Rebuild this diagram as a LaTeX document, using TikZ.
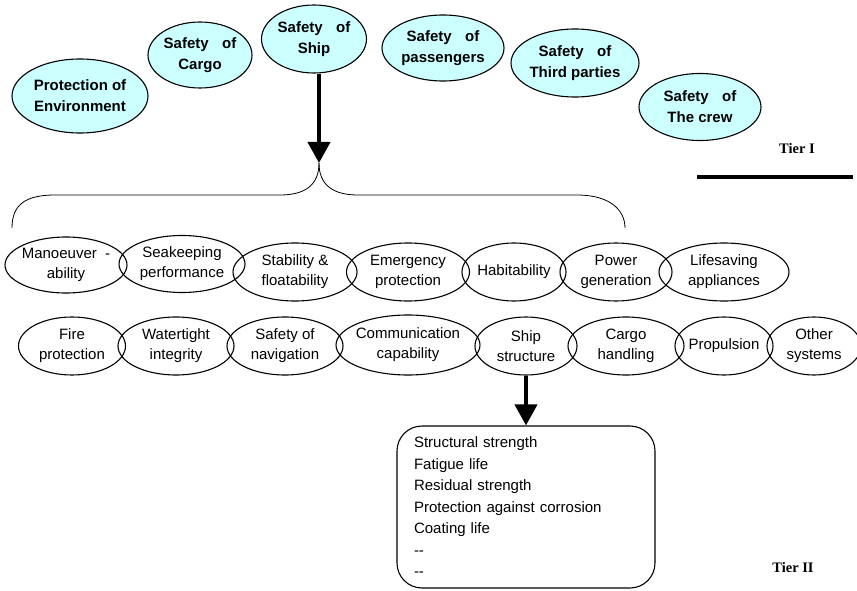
\documentclass[tikz,border=0pt]{standalone}
\usepackage{fontspec}
\setmainfont{Liberation Sans}
\newfontfamily\tierfont{Liberation Serif}
\usetikzlibrary{shapes.geometric,arrows.meta}
\definecolor{goalfill}{HTML}{CCFFFF}
\begin{document}
\begin{tikzpicture}[x=1pt,y=-1pt,
  bubble/.style={ellipse,draw,line width=1.1pt,inner xsep=-40pt,inner ysep=-20pt,
    align=center,font=\fontsize{15}{20}\selectfont},
  goal/.style={bubble,fill=goalfill,font=\bfseries\fontsize{15}{21}\selectfont},
  attr/.style={bubble},
  bigarrow/.style={line width=4pt,-{Triangle[width=22pt,length=21pt]}},
  brace/.style={line width=0.8pt},
  tier/.style={font=\tierfont\bfseries\fontsize{14.5}{16}\selectfont},
  listbox/.style={draw,line width=1.1pt,rounded corners=25pt,minimum width=258pt,
    minimum height=162pt,text width=224pt,align=left,inner xsep=17pt,
    font=\fontsize{15}{21.5}\selectfont}]
\useasboundingbox (0,0) rectangle (857,591);

% Tier I goals
\node[goal,minimum width=136pt,minimum height=74pt] (env) at (80,96) {Protection of\\Environment};
\node[goal,minimum width=104pt,minimum height=66pt] (cargo) at (200,55) {Safety\hspace{0.9em}of\\Cargo};
\node[goal,minimum width=105pt,minimum height=68pt] (ship) at (314,39) {Safety\hspace{0.9em}of\\Ship};
\node[goal,minimum width=122pt,minimum height=66pt] (pass) at (443,48) {Safety\hspace{0.9em}of\\passengers};
\node[goal,minimum width=128pt,minimum height=68pt] (third) at (575,63) {Safety\hspace{0.9em}of\\Third parties};
\node[goal,minimum width=122pt,minimum height=67pt] (crew) at (700,107) {Safety\hspace{0.9em}of\\The crew};

\node[tier] (t1) at (797,149) {Tier I};
\coordinate (barL) at (697,177);
\coordinate (barR) at (853,177);
\draw[line width=4pt] (barL) -- (barR);

% arrow into the brace
\coordinate (cusp) at (319,163);
\draw[bigarrow] (ship.south -| cusp) -- (cusp);

% brace over the first row of attributes
\coordinate (braceL) at (12,228);
\coordinate (braceR) at (625,228);
\draw[brace] (cusp) .. controls (319,185) and (305,195) .. (280,195)
  -- (55,195) .. controls (25,195) and (12,205) .. (braceL);
\draw[brace] (cusp) .. controls (319,185) and (333,195) .. (358,195)
  -- (577,195) .. controls (610,195) and (625,210) .. (braceR);

% first row of attributes
\node[attr,minimum width=122pt,minimum height=56pt] (man) at (66,265) {Manoeuver\ \ -\\ability};
\node[attr,minimum width=126pt,minimum height=57pt] (sea) at (182,264) {Seakeeping\\performance};
\node[attr,minimum width=124pt,minimum height=58pt] (stab) at (295,272) {Stability \&\\floatability};
\node[attr,minimum width=123pt,minimum height=58pt] (emer) at (408,272) {Emergency\\protection};
\node[attr,minimum width=104pt,minimum height=58pt] (hab) at (514,272) {Habitability};
\node[attr,minimum width=112pt,minimum height=58pt] (pow) at (616,272) {Power\\generation};
\node[attr,minimum width=130pt,minimum height=58pt] (life) at (724,272) {Lifesaving\\appliances};

% second row of attributes
\node[attr,minimum width=107pt,minimum height=58pt] (fire) at (72,346) {Fire\\protection};
\node[attr,minimum width=116pt,minimum height=58pt] (wt) at (176,346) {Watertight\\integrity};
\node[attr,minimum width=116pt,minimum height=58pt] (nav) at (285,346) {Safety of\\navigation};
\node[attr,minimum width=144pt,minimum height=60pt] (comm) at (408,345) {Communication\\capability};
\node[attr,minimum width=102pt,minimum height=58pt] (ss) at (526,346) {Ship\\structure};
\node[attr,minimum width=116pt,minimum height=58pt] (ch) at (626,346) {Cargo\\handling};
\node[attr,minimum width=98pt,minimum height=58pt] (prop) at (724,346) {Propulsion};
\node[attr,minimum width=94pt,minimum height=58pt] (oth) at (814,346) {Other\\systems};

% Tier II list
\node[listbox] (list) at (526,507) {Structural strength\\Fatigue life\\Residual strength\\Protection against corrosion\\Coating life\\{-}{-}\\{-}{-}};
\draw[bigarrow] (ss.south) -- (list.north);

\node[tier] (t2) at (793,568) {Tier II};
\end{tikzpicture}
\end{document}
